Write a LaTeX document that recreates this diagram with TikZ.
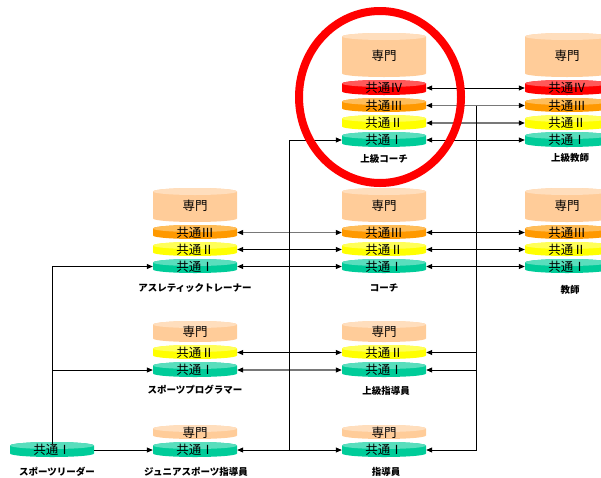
\documentclass[tikz,border=0pt]{standalone}
\usepackage{fontspec}
\newfontfamily\jp{Noto Sans CJK JP}
\usetikzlibrary{arrows.meta}
\definecolor{csen}{RGB}{255,204,153}
\definecolor{cfour}{RGB}{255,0,0}
\definecolor{cthree}{RGB}{255,153,0}
\definecolor{ctwo}{RGB}{255,255,0}
\definecolor{cone}{RGB}{0,204,153}
\definecolor{glin}{RGB}{120,120,120}
\newcommand\lyr[6]{%
  \fill[#5] (#2,#3+3.5) -- (#2,#4-3.5) arc[start angle=180,end angle=0,x radius=42,y radius=3.5] -- (#2+84,#3+3.5) arc[start angle=0,end angle=-180,x radius=42,y radius=3.5] -- cycle;
  \fill[#5!65!white] (#2+42,#3+3.5) ellipse[x radius=42,y radius=3.5];
  \node[lyrtext] (#1) at (#2+42,{(#3+#4)/2+0.5}) {#6};
}
\begin{document}
\begin{tikzpicture}[x=1pt,y=-1pt,
  lyrtext/.style={minimum width=84pt,inner sep=0pt,font=\jp\fontsize{12.5}{12.5}\selectfont},
  lbl/.style={inner sep=0pt,font=\jp\bfseries\fontsize{9.5}{9.5}\selectfont},
  arr/.style={-{Triangle[length=6pt,width=5pt,color=black]},line width=0.8pt},
  dbl/.style={{Triangle[length=6pt,width=5pt,color=black]}-{Triangle[length=6pt,width=5pt,color=black]},line width=0.8pt},
  gl/.style={glin,line width=1.1pt}]
\useasboundingbox (0,0) rectangle (601,477);
\clip (0,0) rectangle (601,477);
% 上級コーチ
\lyr{sc0}{342}{33}{77}{csen}{専門}
\lyr{sc4}{342}{80}{95}{cfour}{共通Ⅳ}
\lyr{sc3}{342}{98}{112}{cthree}{共通Ⅲ}
\lyr{sc2}{342}{115}{130}{ctwo}{共通Ⅱ}
\lyr{sc1}{342}{132}{147}{cone}{共通Ⅰ}
\node[lbl] (lsc) at (384,159) {上級コーチ};
% 上級教師
\lyr{st0}{525}{33}{77}{csen}{専門}
\lyr{st4}{525}{80}{95}{cfour}{共通Ⅳ}
\lyr{st3}{525}{98}{112}{cthree}{共通Ⅲ}
\lyr{st2}{525}{115}{130}{ctwo}{共通Ⅱ}
\lyr{st1}{525}{132}{147}{cone}{共通Ⅰ}
\node[lbl] (lst) at (570,158) {上級教師};
% アスレティックトレーナー
\lyr{at0}{153}{188}{222}{csen}{専門}
\lyr{at3}{153}{225}{239}{cthree}{共通Ⅲ}
\lyr{at2}{153}{242}{256}{ctwo}{共通Ⅱ}
\lyr{at1}{153}{259}{273}{cone}{共通Ⅰ}
\node[lbl] (lat) at (195,288) {アスレティックトレーナー};
% コーチ
\lyr{co0}{342}{188}{222}{csen}{専門}
\lyr{co3}{342}{225}{239}{cthree}{共通Ⅲ}
\lyr{co2}{342}{242}{256}{ctwo}{共通Ⅱ}
\lyr{co1}{342}{259}{273}{cone}{共通Ⅰ}
\node[lbl] (lco) at (384,288) {コーチ};
% 教師
\lyr{te0}{525}{188}{222}{csen}{専門}
\lyr{te3}{525}{225}{239}{cthree}{共通Ⅲ}
\lyr{te2}{525}{242}{256}{ctwo}{共通Ⅱ}
\lyr{te1}{525}{259}{273}{cone}{共通Ⅰ}
\node[lbl] (lte) at (570,290) {教師};
% スポーツプログラマー
\lyr{sp0}{153}{321}{342}{csen}{専門}
\lyr{sp2}{153}{345}{359}{ctwo}{共通Ⅱ}
\lyr{sp1}{153}{362}{377}{cone}{共通Ⅰ}
\node[lbl] (lsp) at (195,390) {スポーツプログラマー};
% 上級指導員
\lyr{sj0}{342}{321}{342}{csen}{専門}
\lyr{sj2}{342}{345}{359}{ctwo}{共通Ⅱ}
\lyr{sj1}{342}{362}{377}{cone}{共通Ⅰ}
\node[lbl] (lsj) at (386,391) {上級指導員};
% ジュニアスポーツ指導員
\lyr{ju0}{153}{425}{439}{csen}{専門}
\lyr{ju1}{153}{442}{457}{cone}{共通Ⅰ}
\node[lbl] (lju) at (196,472) {ジュニアスポーツ指導員};
% 指導員
\lyr{si0}{342}{425}{439}{csen}{専門}
\lyr{si1}{342}{442}{457}{cone}{共通Ⅰ}
\node[lbl] (lsi) at (386,472) {指導員};
% スポーツリーダー
\lyr{sl1}{10}{442}{457}{cone}{共通Ⅰ}
\node[lbl] (lsl) at (57,472) {スポーツリーダー};
% connectors
\coordinate (ma) at (289,0);
\coordinate (mb) at (476,0);
\draw[dbl] (sc4.east) -- (st4.west);
\draw[dbl,gl] (sc3.east) -- (st3.west);
\draw[dbl,gl] (sc2.east) -- (st2.west);
\draw[dbl] (sc1.east) -- (st1.west);
\draw[dbl,gl] (at3.east) -- (co3.west);
\draw[dbl] (at2.east) -- (co2.west);
\draw[dbl] (at1.east) -- (co1.west);
\draw[dbl] (co3.east) -- (te3.west);
\draw[dbl] (co2.east) -- (te2.west);
\draw[dbl] (co1.east) -- (te1.west);
\draw[dbl] (sp2.east) -- (sj2.west);
\draw[dbl,gl] (sp1.east) -- (sj1.west);
\draw[dbl] (ju1.east) -- (si1.west);
\draw[arr] (sl1.east) -- (ju1.west);
\draw[arr] (sl1.north) |- (at1.west);
\draw[arr] (sl1.north |- sp1.west) -- (sp1.west);
\draw[arr] (ma |- ju1.east) |- (sc1.west);
\draw[arr] (mb |- sc3.east) |- (si1.east);
\draw[arr] (mb |- sj2.east) -- (sj2.east);
\draw[arr] (mb |- sj1.east) -- (sj1.east);
% red circle
\draw[red,line width=8pt] (380,97) ellipse[x radius=81,y radius=86];
\end{tikzpicture}
\end{document}
